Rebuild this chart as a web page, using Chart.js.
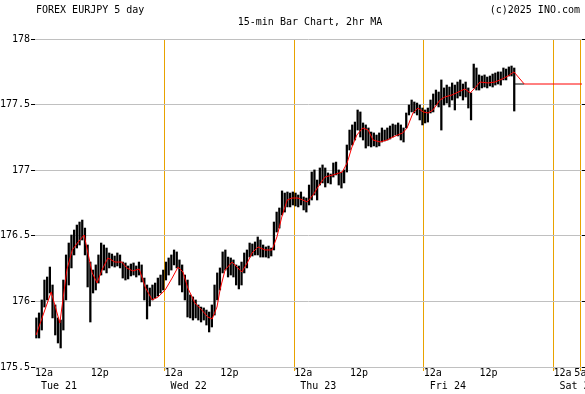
<!DOCTYPE html>
<html>
<head>
<meta charset="utf-8">
<script src="https://cdn.jsdelivr.net/npm/chart.js@4.4.1/dist/chart.umd.min.js"></script>
<style>
  body { margin: 0; background: #fff; }
  #wrap { width: 585px; height: 394px; position: relative; }
</style>
</head>
<body>
<div id="wrap"><canvas id="chart"></canvas></div>
<script>
'use strict';

// 15-min bars sampled every half hour, hours counted from Tue 21 12a
const barStartHour = 0.25;
const barStep = 0.5;

const barHighs = [
  175.874, 175.912, 176.011, 176.163, 176.186, 176.262, 176.125, 175.973, 175.874, 175.858,
  176.163, 176.354, 176.445, 176.506, 176.544, 176.582, 176.605, 176.620, 176.559, 176.430,
  176.300, 176.239, 176.278, 176.354, 176.445, 176.430, 176.407, 176.369, 176.361, 176.346,
  176.369, 176.354, 176.300, 176.293, 176.270, 176.285, 176.293, 176.270, 176.300, 176.278,
  176.178, 176.125, 176.102, 176.125, 176.140, 176.178, 176.201, 176.239, 176.300, 176.331,
  176.354, 176.392, 176.377, 176.316, 176.278, 176.201, 176.163, 176.049, 176.034, 176.011,
  175.973, 175.957, 175.950, 175.934, 175.919, 175.973, 176.125, 176.217, 176.255, 176.377,
  176.392, 176.338, 176.331, 176.316, 176.278, 176.270, 176.300, 176.369, 176.392, 176.445,
  176.438, 176.453, 176.491, 176.468, 176.430, 176.415, 176.422, 176.407, 176.605, 176.681,
  176.712, 176.842, 176.826, 176.834, 176.826, 176.834, 176.826, 176.811, 176.834, 176.796,
  176.788, 176.887, 176.986, 177.002, 176.925, 177.017, 177.040, 177.017, 176.979, 176.971,
  177.055, 177.062, 177.002, 176.986, 177.002, 177.192, 177.306, 177.345, 177.367, 177.459,
  177.444, 177.360, 177.345, 177.322, 177.291, 177.284, 177.268, 177.284, 177.322, 177.306,
  177.322, 177.337, 177.352, 177.345, 177.360, 177.345, 177.322, 177.436, 177.497, 177.535,
  177.520, 177.512, 177.497, 177.474, 177.459, 177.474, 177.535, 177.581, 177.611, 177.596,
  177.688, 177.627, 177.649, 177.634, 177.665, 177.649, 177.672, 177.688, 177.657, 177.672,
  177.627, 177.589, 177.809, 177.779, 177.726, 177.718, 177.726, 177.710, 177.718, 177.733,
  177.741, 177.749, 177.749, 177.779, 177.771, 177.787, 177.794, 177.779
];

const barLows = [
  175.721, 175.721, 175.782, 175.957, 176.011, 176.064, 175.874, 175.744, 175.683, 175.645,
  175.782, 176.011, 176.125, 176.255, 176.354, 176.407, 176.430, 176.468, 176.354, 176.110,
  175.843, 176.064, 176.087, 176.140, 176.201, 176.239, 176.217, 176.255, 176.270, 176.262,
  176.270, 176.255, 176.178, 176.163, 176.171, 176.194, 176.201, 176.186, 176.201, 176.148,
  176.011, 175.866, 175.965, 176.011, 176.026, 176.041, 176.064, 176.087, 176.163, 176.201,
  176.239, 176.278, 176.255, 176.125, 176.072, 176.011, 175.881, 175.874, 175.858, 175.874,
  175.858, 175.843, 175.858, 175.820, 175.767, 175.805, 175.896, 176.011, 176.087, 176.217,
  176.239, 176.186, 176.201, 176.186, 176.125, 176.095, 176.125, 176.217, 176.255, 176.338,
  176.346, 176.354, 176.354, 176.338, 176.338, 176.338, 176.331, 176.346, 176.392, 176.529,
  176.559, 176.659, 176.681, 176.720, 176.720, 176.735, 176.727, 176.720, 176.735, 176.697,
  176.681, 176.735, 176.773, 176.811, 176.773, 176.887, 176.903, 176.872, 176.903, 176.895,
  176.948, 176.964, 176.887, 176.864, 176.903, 176.986, 177.154, 177.192, 177.230, 177.306,
  177.253, 177.230, 177.169, 177.185, 177.177, 177.185, 177.177, 177.185, 177.215, 177.223,
  177.230, 177.238, 177.253, 177.268, 177.261, 177.230, 177.215, 177.322, 177.421, 177.444,
  177.436, 177.421, 177.383, 177.345, 177.360, 177.367, 177.436, 177.444, 177.497, 177.482,
  177.306, 177.497, 177.512, 177.482, 177.535, 177.459, 177.550, 177.566, 177.535, 177.558,
  177.474, 177.383, 177.627, 177.611, 177.611, 177.627, 177.634, 177.627, 177.642, 177.634,
  177.649, 177.657, 177.649, 177.688, 177.688, 177.718, 177.718, 177.451
];

// 2hr moving average
const maHours = [
  0.2, 3.0, 4.6, 5.9, 6.9, 8.0, 9.1, 9.8, 10.6, 11.5, 12.4, 13.5, 14.8, 16.1, 17.0, 18.1,
  19.3, 20.4, 21.7, 22.8, 24.1, 25.4, 26.5, 27.4, 28.3, 29.6, 30.9, 32.0, 32.8, 33.7, 34.3,
  35.2, 36.5, 37.4, 38.3, 39.3, 40.2, 41.3, 42.6, 43.9, 44.8, 45.7, 46.7, 47.6, 48.7, 50.4,
  51.5, 52.4, 53.7, 55.2, 56.9, 57.8, 58.7, 59.6, 60.7, 61.7, 62.6, 63.9, 65.2, 66.3, 68.1,
  68.9, 70.0, 70.9, 71.9, 72.8, 73.7, 75.0, 75.9, 77.2, 79.6, 80.6, 81.5, 82.4, 83.9, 85.2,
  86.5, 87.6, 88.7, 90.6
];
const maValues = [
  175.744, 176.072, 175.835, 176.239, 176.392, 176.453, 176.506, 176.369, 176.217, 176.140,
  176.239, 176.331, 176.300, 176.300, 176.255, 176.232, 176.247, 176.110, 176.011, 176.034,
  176.087, 176.178, 176.262, 176.224, 176.102, 175.988, 175.934, 175.881, 175.866, 175.957,
  176.095, 176.239, 176.300, 176.262, 176.224, 176.293, 176.369, 176.415, 176.392, 176.392,
  176.491, 176.643, 176.773, 176.788, 176.788, 176.758, 176.811, 176.872, 176.948, 176.964,
  176.986, 177.055, 177.177, 177.268, 177.322, 177.306, 177.230, 177.215, 177.230, 177.253,
  177.284, 177.322, 177.436, 177.474, 177.444, 177.436, 177.459, 177.535, 177.558, 177.573,
  177.619, 177.589, 177.627, 177.672, 177.665, 177.672, 177.695, 177.718, 177.749, 177.657
];

const lastClose = 177.657;
const closeTickStart = 88.78;
const closeTickEnd = 90.6;
const axisEndHour = 101.3;

const yTicks = [175.5, 176, 176.5, 177, 177.5, 178];
const xTickHours = [0, 12, 24, 36, 48, 60, 72, 84, 96, 101];
const xTickTimes = ['12a', '12p', '12a', '12p', '12a', '12p', '12a', '12p', '12a', '5a'];
const xTickDays = ['Tue 21', '', 'Wed 22', '', 'Thu 23', '', 'Fri 24', '', 'Sat 25', ''];
const dayLineHours = [24, 48, 72, 96, 101];

const MONO = '"DejaVu Sans Mono", "Liberation Mono", monospace';
const ORANGE = '#e8a200';
const GRID = '#c0c0c0';

Chart.defaults.font.family = MONO;
Chart.defaults.font.size = 10;
Chart.defaults.color = '#000';

let barData = [];
for (let i = 0; i < barHighs.length; i++) {
  barData.push({ x: barStartHour + i * barStep, y: [barLows[i], barHighs[i]] });
}
let maData = [];
for (let i = 0; i < maHours.length; i++) {
  maData.push({ x: maHours[i], y: maValues[i] });
}

const headerPlugin = {
  id: 'header',
  afterDraw(chart) {
    const ctx = chart.ctx;
    ctx.save();
    ctx.font = '10px ' + MONO;
    ctx.fillStyle = '#000';
    ctx.textBaseline = 'middle';
    ctx.textAlign = 'left';
    ctx.fillText('FOREX EURJPY 5 day', 36, 10);
    ctx.textAlign = 'right';
    ctx.fillText('(c)2025 INO.com', 580, 10);
    ctx.textAlign = 'center';
    ctx.fillText('15-min Bar Chart, 2hr MA', 310, 22);
    ctx.restore();
  }
};

function isDayLine(v) {
  return dayLineHours.indexOf(v) !== -1;
}

let canvasElem = document.getElementById('chart').getContext('2d');
new Chart(canvasElem, {
  type: 'bar',
  data: {
    datasets: [
      {
        type: 'line',
        data: maData,
        borderColor: '#ff0000',
        borderWidth: 1,
        pointRadius: 0,
        tension: 0,
        order: 0
      },
      {
        type: 'line',
        data: [{ x: closeTickEnd, y: lastClose }, { x: axisEndHour, y: lastClose }],
        borderColor: '#ff0000',
        borderWidth: 1,
        pointRadius: 0,
        order: 0
      },
      {
        type: 'line',
        data: [{ x: closeTickStart, y: lastClose }, { x: closeTickEnd, y: lastClose }],
        borderColor: '#000',
        borderWidth: 1,
        pointRadius: 0,
        order: 1
      },
      {
        type: 'bar',
        data: barData,
        backgroundColor: '#000',
        borderWidth: 0,
        barThickness: 1.6,
        order: 2
      }
    ]
  },
  options: {
    responsive: true,
    maintainAspectRatio: false,
    animation: false,
    layout: { padding: { top: 39, left: 0, right: 0, bottom: 0 } },
    plugins: { legend: { display: false }, tooltip: { enabled: false } },
    scales: {
      x: {
        type: 'linear',
        offset: false,
        min: 0,
        max: axisEndHour,
        afterBuildTicks(scale) {
          scale.ticks = xTickHours.map(v => ({ value: v }));
        },
        afterFit(scale) {
          scale.height = 27;
          scale.paddingLeft = 0;
          scale.paddingRight = 0;
        },
        border: { display: false },
        grid: {
          offset: false,
          color: ctx => (ctx.tick && isDayLine(ctx.tick.value)) ? ORANGE : 'rgba(0,0,0,0)',
          tickColor: ctx => (ctx.tick && isDayLine(ctx.tick.value)) ? ORANGE : 'rgba(0,0,0,0)',
          lineWidth: 1,
          tickLength: 4
        },
        ticks: {
          autoSkip: false,
          maxRotation: 0,
          minRotation: 0,
          padding: -4,
          font: { size: 10, lineHeight: 1.3 },
          callback(value) {
            const i = xTickHours.indexOf(value);
            if (i === -1) return '';
            if (xTickTimes[i] === '12a') {
              // midnight labels sit just right of the day line
              return ['   ' + xTickTimes[i], '        ' + xTickDays[i]];
            }
            return xTickTimes[i];
          }
        }
      },
      y: {
        position: 'left',
        min: 175.5,
        max: 178,
        afterBuildTicks(scale) {
          scale.ticks = yTicks.map(v => ({ value: v }));
        },
        afterFit(scale) { scale.width = 35; },
        border: { display: false },
        grid: { color: GRID, tickColor: '#000', tickLength: 4 },
        ticks: { padding: 1, callback: v => String(v) }
      },
      y2: {
        position: 'right',
        min: 175.5,
        max: 178,
        afterBuildTicks(scale) {
          scale.ticks = yTicks.map(v => ({ value: v }));
        },
        afterFit(scale) { scale.width = 3; },
        border: { display: false },
        grid: { drawOnChartArea: false, tickColor: '#000', tickLength: 3 },
        ticks: { display: false }
      }
    }
  },
  plugins: [headerPlugin]
});
</script>
</body>
</html>
